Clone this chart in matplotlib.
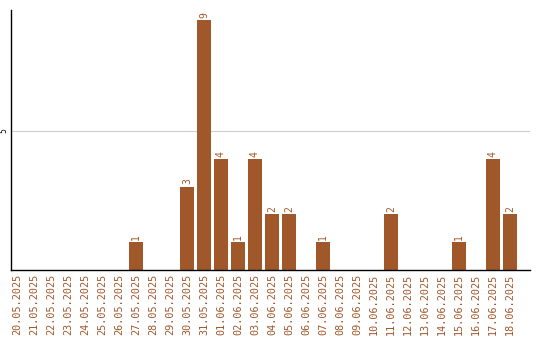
import matplotlib
matplotlib.use("Agg")
import matplotlib.pyplot as plt

dates = ["20.05.2025","21.05.2025","22.05.2025","23.05.2025","24.05.2025","25.05.2025",
         "26.05.2025","27.05.2025","28.05.2025","29.05.2025","30.05.2025","31.05.2025",
         "01.06.2025","02.06.2025","03.06.2025","04.06.2025","05.06.2025","06.06.2025",
         "07.06.2025","08.06.2025","09.06.2025","10.06.2025","11.06.2025","12.06.2025",
         "13.06.2025","14.06.2025","15.06.2025","16.06.2025","17.06.2025","18.06.2025"]
values = [0,0,0,0,0,0,0,1,0,0,3,9,4,1,4,2,2,0,1,0,0,0,2,0,0,0,1,0,4,2]

color = "#A0572A"

fig = plt.figure(figsize=(5.4, 3.4), dpi=100)
ax = fig.add_axes([11/540, 1-270/340, 519/540, 260/340])

x = list(range(len(dates)))
ax.bar(x, values, width=0.82, color=color, zorder=2)
for xi, v in zip(x, values):
    if v > 0:
        ax.text(xi, v + 0.08, str(v), rotation=90, ha="center", va="bottom",
                color=color, fontsize=7, family="DejaVu Sans Mono")

ax.set_xlim(-0.35, 30.18)
ax.set_ylim(0, 9.35)
ax.set_yticks([5])
ax.set_yticklabels(["5"], rotation=90, fontsize=5.5, va="center", ha="center")
ax.yaxis.grid(True, color="#cccccc", linewidth=0.8, zorder=0)
ax.set_xticks(x)
ax.set_xticklabels(dates, rotation=90, fontsize=7.3, color=color, family="DejaVu Sans Mono")
ax.tick_params(axis="both", length=0, pad=3)
ax.tick_params(axis="y", pad=5)
for s in ["top", "right"]:
    ax.spines[s].set_visible(False)
ax.spines["left"].set_linewidth(1)
ax.spines["bottom"].set_linewidth(1)

fig.savefig("out.png", dpi=100)
